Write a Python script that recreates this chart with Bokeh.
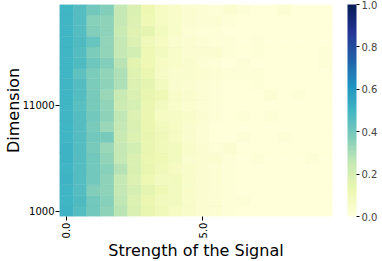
import numpy as np
from bokeh.plotting import figure
from bokeh.models import (LinearColorMapper, ColorBar, FixedTicker, ColumnDataSource,
                          PrintfTickFormatter)
from bokeh.palettes import YlGnBu, interp_palette
from bokeh.transform import transform
from bokeh.embed import file_html
from bokeh.resources import INLINE

# x: strength of the signal, y: dimension
strengths = [0.0, 0.5, 1.0, 1.5, 2.0, 2.5, 3.0, 3.5, 4.0, 4.5,
             5.0, 5.5, 6.0, 6.5, 7.0, 7.5, 8.0, 8.5, 9.0, 9.5]
dimensions = [1000, 2000, 3000, 4000, 5000, 6000, 7000, 8000, 9000, 10000,
              11000, 12000, 13000, 14000, 15000, 16000, 17000, 18000, 19000, 20000]

# one row of values per dimension (columns follow `strengths`)
row_1000 = [.51, .46, .40, .35, .27, .19, .14, .10, .07, .05, .03, .02, .01, .00, .00, .00, .00, .00, .00, .00]
row_2000 = [.50, .47, .40, .36, .26, .18, .13, .09, .08, .05, .03, .02, .01, .01, .00, .00, .00, .00, .00, .00]
row_3000 = [.50, .46, .37, .35, .25, .20, .15, .11, .08, .05, .03, .02, .01, .00, .00, .00, .00, .00, .00, .00]
row_4000 = [.51, .46, .40, .35, .25, .18, .12, .08, .08, .05, .03, .02, .01, .00, .00, .00, .00, .00, .00, .00]
row_5000 = [.50, .46, .40, .36, .28, .19, .14, .10, .07, .05, .03, .02, .01, .00, .00, .00, .00, .00, .00, .00]
row_6000 = [.51, .46, .40, .34, .25, .19, .13, .11, .08, .04, .03, .03, .01, .00, .01, .00, .00, .00, .01, .00]
row_7000 = [.51, .46, .39, .33, .25, .21, .14, .10, .08, .05, .03, .01, .03, .00, .00, .00, .00, .00, .00, .00]
row_8000 = [.50, .46, .40, .39, .24, .18, .14, .10, .07, .04, .02, .00, .00, .01, .00, .00, .01, .00, .00, .00]
row_9000 = [.50, .46, .39, .33, .25, .19, .13, .09, .07, .04, .02, .00, .00, .00, .00, .00, .00, .00, .00, .00]
row_10000 = [.50, .46, .40, .35, .26, .18, .13, .07, .06, .05, .03, .01, .00, .01, .00, .01, .00, .00, .00, .00]
row_11000 = [.50, .45, .39, .34, .23, .20, .13, .08, .05, .03, .02, .01, .00, .00, .00, .00, .00, .00, .00, .00]
row_12000 = [.50, .46, .39, .33, .24, .19, .14, .11, .05, .04, .02, .01, .00, .00, .00, .02, .00, .01, .00, .00]
row_13000 = [.50, .46, .38, .35, .29, .18, .15, .08, .04, .03, .02, .01, .00, .00, .01, .00, .00, .00, .00, .00]
row_14000 = [.50, .44, .38, .34, .29, .17, .13, .06, .04, .04, .03, .02, .01, .01, .01, .00, .00, .00, .00, .00]
row_15000 = [.50, .47, .41, .37, .27, .16, .11, .07, .05, .04, .02, .01, .00, .01, .00, .00, .00, .00, .00, .01]
row_16000 = [.50, .46, .38, .34, .25, .21, .11, .08, .05, .03, .03, .03, .01, .00, .01, .00, .00, .00, .00, .01]
row_17000 = [.50, .47, .42, .34, .25, .18, .10, .07, .04, .03, .02, .01, .01, .00, .01, .00, .00, .00, .00, .00]
row_18000 = [.50, .46, .37, .35, .24, .17, .15, .08, .05, .02, .01, .01, .00, .00, .00, .00, .00, .00, .00, .00]
row_19000 = [.50, .46, .36, .35, .25, .18, .11, .07, .05, .03, .02, .02, .01, .00, .00, .00, .00, .00, .00, .00]
row_20000 = [.50, .46, .40, .37, .25, .19, .12, .07, .05, .03, .02, .01, .03, .01, .00, .00, .02, .00, .00, .00]

rows = [row_1000, row_2000, row_3000, row_4000, row_5000, row_6000, row_7000,
        row_8000, row_9000, row_10000, row_11000, row_12000, row_13000, row_14000,
        row_15000, row_16000, row_17000, row_18000, row_19000, row_20000]

x_tick_values = [0.0, 5.0]
x_tick_labels = ["0.0", "5.0"]
y_tick_values = [1000, 11000]
y_tick_labels = ["1000", "11000"]
cbar_ticks = [0.0, 0.2, 0.4, 0.6, 0.8, 1.0]

xs, ys, vals = [], [], []
for d, row in zip(dimensions, rows):
    for s, v in zip(strengths, row):
        xs.append(s)
        ys.append(d)
        vals.append(v)
source = ColumnDataSource(dict(x=xs, y=ys, value=vals))

palette = interp_palette(list(reversed(YlGnBu[9])), 256)
mapper = LinearColorMapper(palette=palette, low=0.0, high=1.0)

FONT = "DejaVu Sans"

p = figure(output_backend="svg", toolbar_location=None,
           frame_width=273, frame_height=212,
           x_range=(-0.25, 9.75), y_range=(500, 20500),
           min_border_left=0, min_border_top=4, min_border_right=0, min_border_bottom=0)

p.rect(x="x", y="y", width=0.5, height=1000, source=source,
       fill_color=transform("value", mapper),
       line_color=transform("value", mapper), line_width=0.5)

p.outline_line_color = None
p.grid.visible = False

for ax in (p.xaxis[0], p.yaxis[0]):
    ax.axis_line_color = None
    ax.minor_tick_line_color = None
    ax.major_tick_in = 0
    ax.major_tick_out = 4
    ax.major_tick_line_color = "black"
    ax.major_label_text_font = FONT
    ax.major_label_text_font_size = "10px"
    ax.major_label_text_color = "black"
    ax.axis_label_text_font = FONT
    ax.axis_label_text_font_size = "16px"
    ax.axis_label_text_font_style = "normal"
    ax.axis_label_text_color = "black"

p.xaxis.ticker = FixedTicker(ticks=x_tick_values)
p.xaxis.major_label_overrides = dict(zip(x_tick_values, x_tick_labels))
p.xaxis.major_label_orientation = np.pi / 2
p.xaxis.major_label_standoff = 2
p.xaxis.axis_label = "Strength of the Signal"
p.xaxis.axis_label_standoff = 0

p.yaxis.ticker = FixedTicker(ticks=y_tick_values)
p.yaxis.major_label_overrides = dict(zip(y_tick_values, y_tick_labels))
p.yaxis.major_label_standoff = 1
p.yaxis.axis_label = "Dimension"
p.yaxis.axis_label_standoff = -3

cbar = ColorBar(color_mapper=mapper, ticker=FixedTicker(ticks=cbar_ticks),
                formatter=PrintfTickFormatter(format="%.1f"),
                width=9, height=212, padding=0, margin=0, location=(15, 0),
                bar_line_color=None, major_tick_in=0, major_tick_out=3,
                major_tick_line_color="black", minor_tick_line_color=None,
                label_standoff=2, major_label_text_font=FONT,
                major_label_text_font_size="10px", background_fill_alpha=0,
                border_line_color=None)
p.add_layout(cbar, "right")

open("out.html", "w").write(file_html(p, INLINE))
